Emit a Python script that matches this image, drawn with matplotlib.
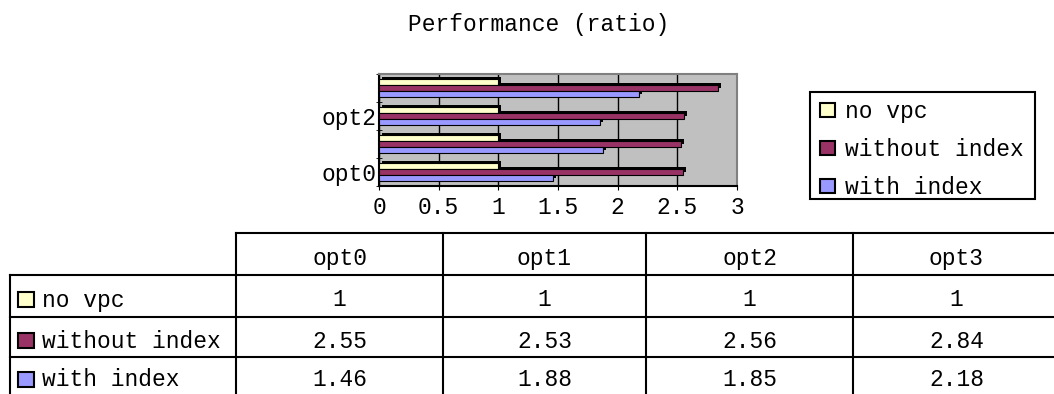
import matplotlib
matplotlib.use('Agg')
import matplotlib.pyplot as plt
import matplotlib.transforms as mtransforms
from matplotlib.patches import Rectangle
import numpy as np

plt.rcParams['font.family'] = ['Liberation Mono', 'DejaVu Sans Mono']
FS = 16.5

categories = ['opt0', 'opt1', 'opt2', 'opt3']
series_names = ['no vpc', 'without index', 'with index']
no_vpc = [1, 1, 1, 1]
without_index = [2.55, 2.53, 2.56, 2.84]
with_index = [1.46, 1.88, 1.85, 2.18]
series_colors = ['#ffffcc', '#993366', '#9999ff']
x_ticks = [0, 0.5, 1, 1.5, 2, 2.5, 3]
x_ticklabels = ['0', '0.5', '1', '1.5', '2', '2.5', '3']

W, H = 1054, 394
fig = plt.figure(figsize=(W / 100, H / 100), dpi=100, facecolor='white')

# chart area in pixel terms
L, R, T, B = 379, 737, 74, 186
ax = fig.add_axes([L / W, 1 - B / H, (R - L) / W, (B - T) / H])
ax.set_facecolor('#c0c0c0')

y = np.arange(len(categories))
bh = 0.21
offsets = [bh, 0, -bh]
# dark copy of each bar, nudged up-right, gives the depth edge
shadow = ax.transData + mtransforms.ScaledTranslation(0.03, 0.025, fig.dpi_scale_trans)
for vals, off, col in zip([no_vpc, without_index, with_index], offsets, series_colors):
    ax.barh(y + off, vals, height=bh, color='black', transform=shadow, zorder=2)
    ax.barh(y + off, vals, height=bh, color=col, edgecolor='black', linewidth=0.8, zorder=3)

ax.set_xlim(0, 3)
ax.set_ylim(-0.5, len(categories) - 0.5)
ax.set_xticks(x_ticks)
ax.set_xticklabels(x_ticklabels, fontsize=FS)
ax.set_yticks(y)
ax.set_yticklabels([c if i % 2 == 0 else '' for i, c in enumerate(categories)], fontsize=FS)
ax.set_yticks(np.arange(-0.5, len(categories), 1.0), minor=True)
ax.tick_params(axis='y', which='major', length=0, pad=2)
ax.tick_params(axis='y', which='minor', length=4, direction='inout', color='black')
ax.tick_params(axis='x', length=3, direction='out', pad=4)
ax.grid(axis='x', color='black', linewidth=1.0, zorder=1)
ax.set_axisbelow(True)
for side in ['top', 'right']:
    ax.spines[side].set_color('#808080')
    ax.spines[side].set_linewidth(1.5)
for side in ['left', 'bottom']:
    ax.spines[side].set_color('black')
    ax.spines[side].set_linewidth(1.5)

# overlay in pixel coordinates for title, legend and data table
ov = fig.add_axes([0, 0, 1, 1], zorder=-1)
ov.set_xlim(0, W)
ov.set_ylim(H, 0)
ov.axis('off')

ov.text(539, 24, 'Performance (ratio)', fontsize=FS, ha='center', va='center')

# legend box
ov.add_patch(Rectangle((810, 92), 225, 107, facecolor='white', edgecolor='black', linewidth=1.5))
for i, (name, col) in enumerate(zip(series_names, series_colors)):
    cy = 110 + i * 38
    ov.add_patch(Rectangle((820, cy - 7), 15, 14, facecolor=col, edgecolor='black', linewidth=1.5))
    ov.text(845, cy + 1, name, fontsize=FS, ha='left', va='center')

# data table
col_x = [236, 443, 646, 853, 1060]
row_y = [233, 275, 317, 357, 400]
lw = 1.5
ov.plot([col_x[0], W], [row_y[0], row_y[0]], color='black', lw=lw)
for ry in row_y[1:4]:
    ov.plot([10, W], [ry, ry], color='black', lw=lw)
ov.plot([10, 10], [row_y[1], H], color='black', lw=lw)
for cx in col_x[:4]:
    ov.plot([cx, cx], [row_y[0], H], color='black', lw=lw)

text_dy = 4
for j, c in enumerate(categories):
    cx = (col_x[j] + col_x[j + 1]) / 2
    ov.text(cx, (row_y[0] + row_y[1]) / 2 + text_dy, c, fontsize=FS, ha='center', va='center')
for i, (name, vals, col) in enumerate(zip(series_names, [no_vpc, without_index, with_index], series_colors)):
    cy = (row_y[i + 1] + row_y[i + 2]) / 2 + text_dy
    if i == 2:
        cy = 380
    ov.add_patch(Rectangle((18, cy - 8), 16, 15, facecolor=col, edgecolor='black', linewidth=1.5))
    ov.text(42, cy, name, fontsize=FS, ha='left', va='center')
    for j, v in enumerate(vals):
        cx = (col_x[j] + col_x[j + 1]) / 2
        ov.text(cx, cy, f'{v:g}', fontsize=FS, ha='center', va='center')

fig.savefig('out.png', dpi=100, facecolor='white')
